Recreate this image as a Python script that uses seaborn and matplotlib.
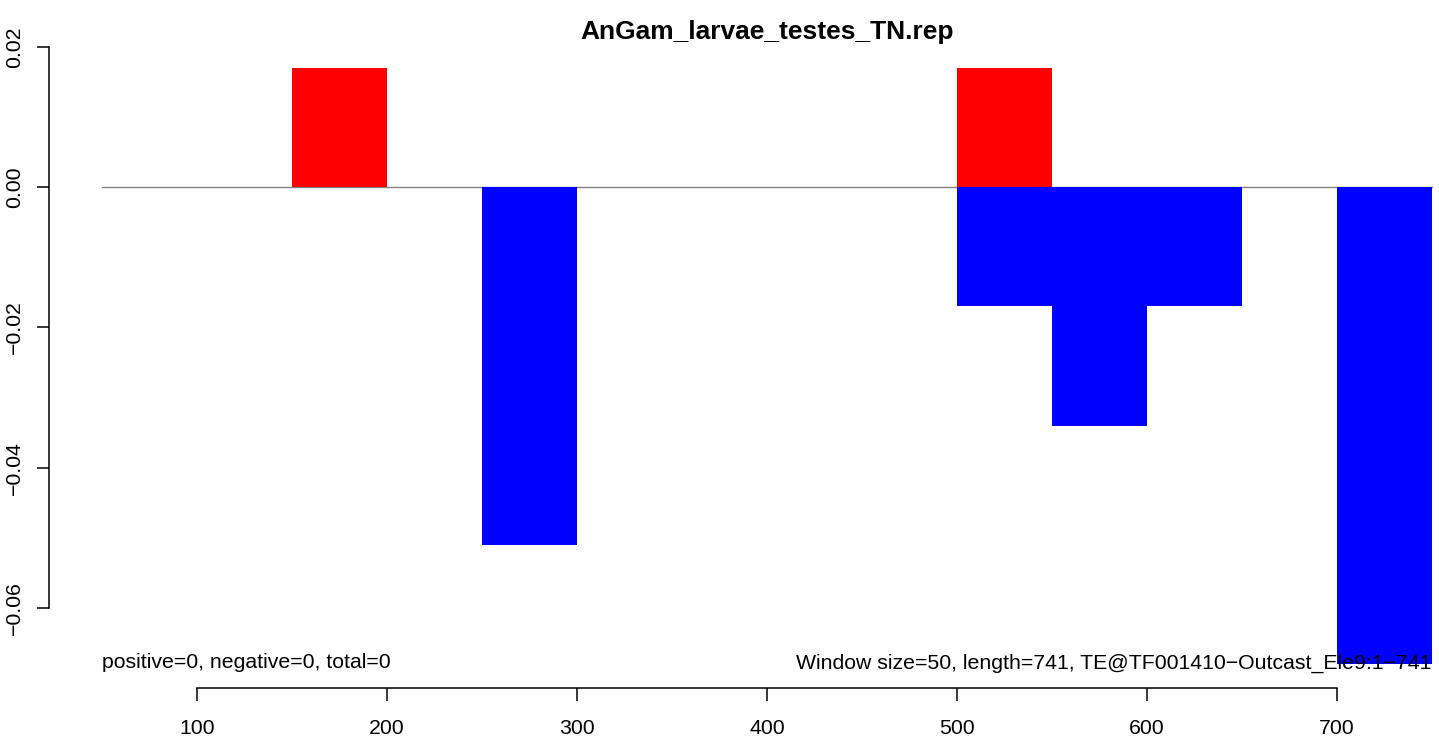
import pandas as pd
import seaborn as sns
import matplotlib.pyplot as plt

# fenêtres de 50 pb : début de fenêtre et valeur
win_start = [150, 250, 500, 500, 550, 600, 700]
values = [0.017, -0.051, 0.017, -0.017, -0.034, -0.017, -0.068]
win_size = 50
seq_len = 741

title = "AnGam_larvae_testes_TN.rep"
left_note = "positive=0, negative=0, total=0"
right_note = "Window size=50, length=741, TE@TF001410\u2212Outcast_Ele9:1\u2212741"
xticks = [100, 200, 300, 400, 500, 600, 700]
yticks = [-0.06, -0.04, -0.02, 0.00, 0.02]

plt.rcParams['font.family'] = ['Liberation Sans', 'DejaVu Sans']

df = pd.DataFrame({
    "pos": [s + win_size / 2 for s in win_start],
    "val": values,
})
df["sign"] = ["pos" if v > 0 else "neg" for v in df["val"]]

fig = plt.figure(figsize=(14.39, 7.37), dpi=100)
ax = fig.add_axes([49 / 1439, 1 - 688 / 737, 1436 / 1439, 644 / 737])

# ligne de base
ax.plot([50, 750], [0, 0], color="#808080", lw=1, zorder=1)

sns.barplot(data=df, x="pos", y="val", hue="sign", native_scale=True,
            palette={"pos": "red", "neg": "blue"}, hue_order=["pos", "neg"],
            dodge=False, width=1, errorbar=None, legend=False, saturation=1,
            linewidth=0, edgecolor="none", ax=ax, zorder=2)

ax.set_xlim(22, 778)
ax.set_ylim(-0.0714, 0.0204)

for s in ["top", "right"]:
    ax.spines[s].set_visible(False)
ax.spines["left"].set_bounds(-0.06, 0.02)
ax.spines["bottom"].set_bounds(100, 700)
ax.spines["left"].set_linewidth(1.1)
ax.spines["bottom"].set_linewidth(1.1)

ax.set_xticks(xticks)
ax.set_xticklabels([str(t) for t in xticks])
ax.set_yticks(yticks)
ax.set_yticklabels([("%.2f" % t).replace("-", "\u2212") if t != 0 else "0.00" for t in yticks])
ax.tick_params(axis="both", length=9, width=1.1, labelsize=15.3)
ax.tick_params(axis="x", pad=13)
ax.tick_params(axis="y", pad=9, labelrotation=90)
for lab in ax.get_yticklabels():
    lab.set_va("center")
ax.set_xlabel("")
ax.set_ylabel("")

ax.set_title(title, fontsize=19, fontweight="bold", pad=3)

ax.text(50, -0.0686, left_note, ha="left", va="baseline", fontsize=15.3, zorder=5)
ax.text(750, -0.0686, right_note, ha="right", va="baseline", fontsize=15.3, zorder=5)

fig.savefig("out.png", dpi=100)
